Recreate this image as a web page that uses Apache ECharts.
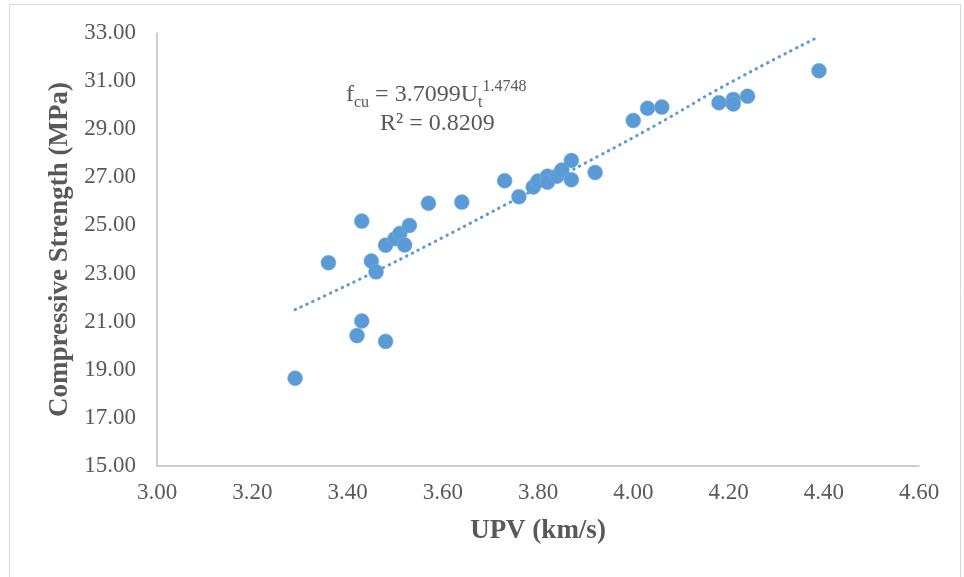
<!DOCTYPE html>
<html>
<head>
<meta charset="utf-8">
<script src="https://cdn.jsdelivr.net/npm/echarts@6/dist/echarts.min.js"></script>
<style>html,body{margin:0;padding:0;background:#fff}#c{width:964px;height:577px}</style>
</head>
<body>
<div id="c"></div>
<script>
// UPV (km/s) values
var upv = [3.29, 3.36, 3.42, 3.43, 3.43, 3.45, 3.46, 3.48, 3.48, 3.50, 3.51, 3.52, 3.53, 3.57, 3.64, 3.73, 3.76, 3.79, 3.80, 3.82, 3.82, 3.84, 3.85, 3.87, 3.87, 3.92, 4.00, 4.03, 4.06, 4.18, 4.21, 4.21, 4.24, 4.39];
// Compressive strength (MPa)
var strength = [18.65, 23.45, 20.42, 21.03, 25.18, 23.52, 23.07, 20.18, 24.18, 24.45, 24.67, 24.19, 25.00, 25.92, 25.97, 26.86, 26.19, 26.60, 26.85, 27.05, 26.80, 27.05, 27.30, 27.70, 26.90, 27.20, 29.36, 29.87, 29.92, 30.10, 30.24, 30.05, 30.37, 31.43];
// trendline
var trendX = [3.29, 3.45, 3.60, 3.75, 3.90, 4.05, 4.20, 4.39];
var trendY = [21.5, 23.0, 24.5, 26.05, 27.6, 29.2, 30.9, 32.85];
var xTitle = "UPV (km/s)";
var yTitle = "Compressive Strength (MPa)";

var pts = upv.map(function(v, i){ return [v, strength[i]]; });
var tr = trendX.map(function(v, i){ return [v, trendY[i]]; });
var font = "'Liberation Serif', 'Times New Roman', serif";
var txt = "#595959";

var chart = echarts.init(document.getElementById('c'));
chart.setOption({
  animation: false,
  backgroundColor: '#fff',
  grid: {left: 157, right: 45, top: 33, bottom: 111},
  xAxis: {
    type: 'value', min: 3.0, max: 4.6, interval: 0.2,
    axisLine: {show: true, lineStyle: {color: '#bfbfbf', width: 1.5}},
    axisTick: {show: false},
    splitLine: {show: false},
    axisLabel: {color: txt, fontFamily: font, fontSize: 23, margin: 15, formatter: function(v){ return v.toFixed(2); }},
    name: xTitle, nameLocation: 'middle', nameGap: 52,
    nameTextStyle: {color: txt, fontFamily: font, fontSize: 27, fontWeight: 'bold'}
  },
  yAxis: {
    type: 'value', min: 15, max: 33, interval: 2,
    axisLine: {show: true, lineStyle: {color: '#bfbfbf', width: 1.5}},
    axisTick: {show: false},
    splitLine: {show: false},
    axisLabel: {color: txt, fontFamily: font, fontSize: 23, margin: 21, formatter: function(v){ return v.toFixed(2); }},
    name: yTitle, nameLocation: 'middle', nameGap: 81, nameRotate: 90,
    nameTextStyle: {color: txt, fontFamily: font, fontSize: 27, fontWeight: 'bold'}
  },
  graphic: [
    {type: 'rect', shape: {x: 9.5, y: 4.5, width: 951, height: 590}, style: {fill: 'none', stroke: '#d9d9d9', lineWidth: 1}, silent: true},
    {type: 'text', left: 346, top: 79, style: {
      text: '{m|f}{s|cu}{m| = 3.7099U}{s|t}{p|1.4748}',
      fontFamily: font, fill: txt,
      rich: {
        m: {fontSize: 24, lineHeight: 32, verticalAlign: 'middle', fontFamily: font, fill: txt, color: txt},
        s: {fontSize: 16, lineHeight: 15, verticalAlign: 'bottom', fontFamily: font, fill: txt, color: txt},
        p: {fontSize: 16, lineHeight: 15, verticalAlign: 'top', fontFamily: font, fill: txt, color: txt}
      }
    }},
    {type: 'text', left: 380, top: 112, style: {text: 'R² = 0.8209', fontFamily: font, fontSize: 24, fill: txt}}
  ],
  series: [
    {type: 'line', data: tr, showSymbol: false, symbol: 'none', smooth: true,
     lineStyle: {color: '#5b9bd5', width: 3, type: [0.5, 6], cap: 'round'}, z: 1},
    {type: 'scatter', data: pts, symbol: 'circle', symbolSize: 15,
     itemStyle: {color: '#5b9bd5', borderColor: '#7aaee0', borderWidth: 0.5, opacity: 1}, z: 2}
  ]
});
</script>
</body>
</html>
